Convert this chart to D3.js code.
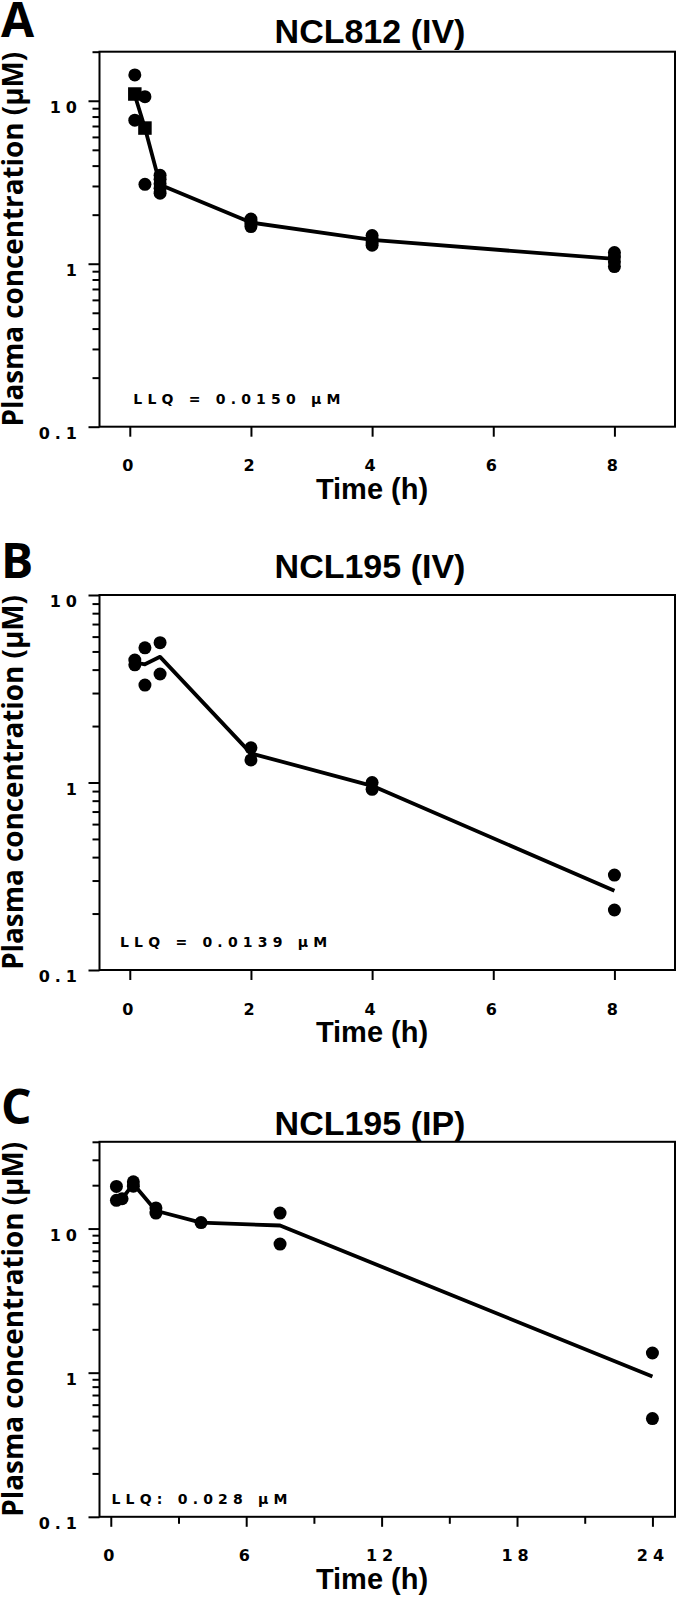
<!DOCTYPE html>
<html><head><meta charset="utf-8">
<script src="https://cdn.jsdelivr.net/npm/d3@7"></script>
<style>body{margin:0;background:#fff} svg{display:block}</style>
</head><body>
<script>
// ---------- Panel A : NCL812 (IV) ----------
const aTimes  = [0.083,0.083,0.25,0.25,0.5,0.5,0.5,0.5,0.5,2,2,2,2,4,4,4,4,8,8,8,8];
const aValues = [14.4,7.6,10.6,3.07,3.49,3.3,3.1,2.9,2.71,1.88,1.82,1.75,1.69,1.49,1.42,1.36,1.30,1.17,1.10,1.03,0.96];
const aMeanTimes  = [0.083,0.25];
const aMeanValues = [11.0,6.8];
const aLineTimes  = [0.083,0.25,0.5,2,4,8];
const aLineValues = [10.8,6.8,3.05,1.79,1.40,1.07];

// ---------- Panel B : NCL195 (IV) ----------
const bTimes  = [0.083,0.083,0.25,0.25,0.5,0.5,2,2,4,4,8,8];
const bValues = [4.5,4.24,5.23,3.31,5.57,3.79,1.53,1.32,1.0,0.92,0.321,0.209];
const bLineTimes  = [0.083,0.25,0.5,2,4,8];
const bLineValues = [4.37,4.27,4.68,1.43,0.96,0.265];

// ---------- Panel C : NCL195 (IP) ----------
const cTimes  = [0.25,0.25,0.5,1,1,2,2,4,7.5,7.5,24,24];
const cValues = [19.6,15.7,16.1,21.1,19.7,13.9,12.8,11.0,12.8,7.8,1.37,0.48];
const cLineTimes  = [0.25,0.5,1,2,4,7.5,24];
const cLineValues = [17.0,16.1,20.4,13.3,11.0,10.5,0.94];

// ---------- axes / text ----------
const panelLetters = ["A","B","C"];
const panelTitles  = ["NCL812 (IV)","NCL195 (IV)","NCL195 (IP)"];
const llqTexts     = ["LLQ = 0.0150 µM","LLQ = 0.0139 µM","LLQ: 0.028 µM"];
const yDomainsMax  = [20,10,40];
const xDomainsMax  = [9,9,25];
const xMajorTicksAB = [0,2,4,6,8];
const xMajorTicksC  = [0,6,12,18,24];
const xMinorTicksC  = [3,9,15,21];
const yTickLabels   = {0.1:"0.1", 1:"1", 10:"10"};
const yAxisTitle = "Plasma concentration (µM)";
const xAxisTitle = "Time (h)";

const W = 678, H = 1600;
const svg = d3.select("body").append("svg").attr("width",W).attr("height",H);

const ARIAL = "'Liberation Sans', Arial, sans-serif";
const DEJA = "'DejaVu Sans', 'Liberation Sans', sans-serif";
const OPEN = "'Open Sans', 'Liberation Sans', sans-serif";

const panels = [
  {scatter:{t:aTimes,v:aValues}, mean:{t:aMeanTimes,v:aMeanValues}, line:{t:aLineTimes,v:aLineValues},
   top:51.7, xMajor:xMajorTicksAB, xMinor:[], titleBase:43.3, letterBase:36.7, llqX:133.3, llqOff:22.7},
  {scatter:{t:bTimes,v:bValues}, mean:null, line:{t:bLineTimes,v:bLineValues},
   top:595, xMajor:xMajorTicksAB, xMinor:[], titleBase:577.5, letterBase:578, llqX:120, llqOff:23.5},
  {scatter:{t:cTimes,v:cValues}, mean:null, line:{t:cLineTimes,v:cLineValues},
   top:1141.8, xMajor:xMajorTicksC, xMinor:xMinorTicksC, titleBase:1134.6, letterBase:1124, llqX:111.5, llqOff:13}
];

const left = 99.5, right = 675, frameH = 375;

panels.forEach((p,i) => {
  const top = p.top, bottom = top + frameH;
  const x = d3.scaleLinear().domain([-0.5, xDomainsMax[i]]).range([left,right]);
  const y = d3.scaleLog().domain([0.1, yDomainsMax[i]]).range([bottom, top]);
  const g = svg.append("g");

  // y ticks
  const yMajor = [], yMinor = [];
  for (let e=-1; e<=1; e++) {
    for (let k=1; k<=9; k++) {
      const v = +(k*Math.pow(10,e)).toPrecision(3);
      if (v < 0.1-1e-9 || v > yDomainsMax[i]+1e-9) continue;
      (k===1 ? yMajor : yMinor).push(v);
    }
  }
  const yMinAx = g.append("g").attr("transform",`translate(${left},0)`)
    .call(d3.axisLeft(y).tickValues(yMinor).tickSize(7).tickFormat(""));
  const yMajAx = g.append("g").attr("transform",`translate(${left},0)`)
    .call(d3.axisLeft(y).tickValues(yMajor).tickSize(11).tickPadding(10).tickFormat(d => yTickLabels[d]));
  [yMinAx,yMajAx].forEach(a => { a.select(".domain").remove(); a.selectAll("line").attr("stroke","#000").attr("stroke-width",2); });
  yMajAx.selectAll("text").attr("dy",null).attr("y",11.5).attr("x",-17.5)
    .attr("font-family",DEJA).attr("font-weight","bold").attr("font-size",16)
    .attr("letter-spacing",5).attr("fill","#000");

  // x ticks
  const xMinAx = g.append("g").attr("transform",`translate(0,${bottom})`)
    .call(d3.axisBottom(x).tickValues(p.xMinor).tickSize(7).tickFormat(""));
  const xMajAx = g.append("g").attr("transform",`translate(0,${bottom})`)
    .call(d3.axisBottom(x).tickValues(p.xMajor).tickSize(10).tickFormat(d3.format("d")));
  [xMinAx,xMajAx].forEach(a => { a.select(".domain").remove(); a.selectAll("line").attr("stroke","#000").attr("stroke-width",2); });
  xMajAx.selectAll("text").attr("dy",null).attr("y",44.5)
    .attr("font-family",DEJA).attr("font-weight","bold").attr("font-size",16)
    .attr("letter-spacing",5).attr("fill","#000");

  // frame
  g.append("rect").attr("x",left).attr("y",top).attr("width",right-left).attr("height",frameH)
    .attr("fill","none").attr("stroke","#000").attr("stroke-width",2);

  // line
  const lineData = p.line.t.map((t,j)=>[t,p.line.v[j]]);
  g.append("path").datum(lineData)
    .attr("d", d3.line().x(d=>x(d[0])).y(d=>y(d[1])))
    .attr("fill","none").attr("stroke","#000").attr("stroke-width",3.8).attr("stroke-linejoin","round");

  // circles
  const pts = p.scatter.t.map((t,j)=>[t,p.scatter.v[j]]);
  g.selectAll("circle.pt").data(pts).join("circle").attr("class","pt")
    .attr("cx",d=>x(d[0])).attr("cy",d=>y(d[1])).attr("r",6.5).attr("fill","#000");

  // squares
  if (p.mean) {
    const sq = p.mean.t.map((t,j)=>[t,p.mean.v[j]]);
    const s = 13.5;
    g.selectAll("rect.sq").data(sq).join("rect").attr("class","sq")
      .attr("x",d=>x(d[0])-s/2).attr("y",d=>y(d[1])-s/2).attr("width",s).attr("height",s).attr("fill","#000");
  }

  // LLQ text
  g.append("text").attr("x",p.llqX).attr("y",bottom-p.llqOff)
    .attr("font-family",DEJA).attr("font-weight","bold").attr("font-size",14)
    .attr("letter-spacing",5.2).text(llqTexts[i]);

  // title
  g.append("text").attr("x",370).attr("y",p.titleBase).attr("text-anchor","middle")
    .attr("font-family",ARIAL).attr("font-weight","bold").attr("font-size",34).text(panelTitles[i]);

  // panel letter
  g.append("text").attr("x",1).attr("y",p.letterBase)
    .attr("font-family",OPEN).attr("font-weight",700).attr("font-size",48).text(panelLetters[i]);

  // x axis title
  g.append("text").attr("x",372).attr("y",bottom+72).attr("text-anchor","middle")
    .attr("font-family",ARIAL).attr("font-weight","bold").attr("font-size",29).text(xAxisTitle);

  // y axis title, fitted to frame height
  const yt = g.append("text").attr("transform",`translate(23,${top+frameH/2}) rotate(-90)`)
    .attr("text-anchor","middle").attr("font-family",OPEN).attr("font-weight",700)
    .attr("font-size",28).text(yAxisTitle);
  const len = yt.node().getComputedTextLength();
  yt.attr("font-size", 28*375/len);
});
</script>
</body></html>
